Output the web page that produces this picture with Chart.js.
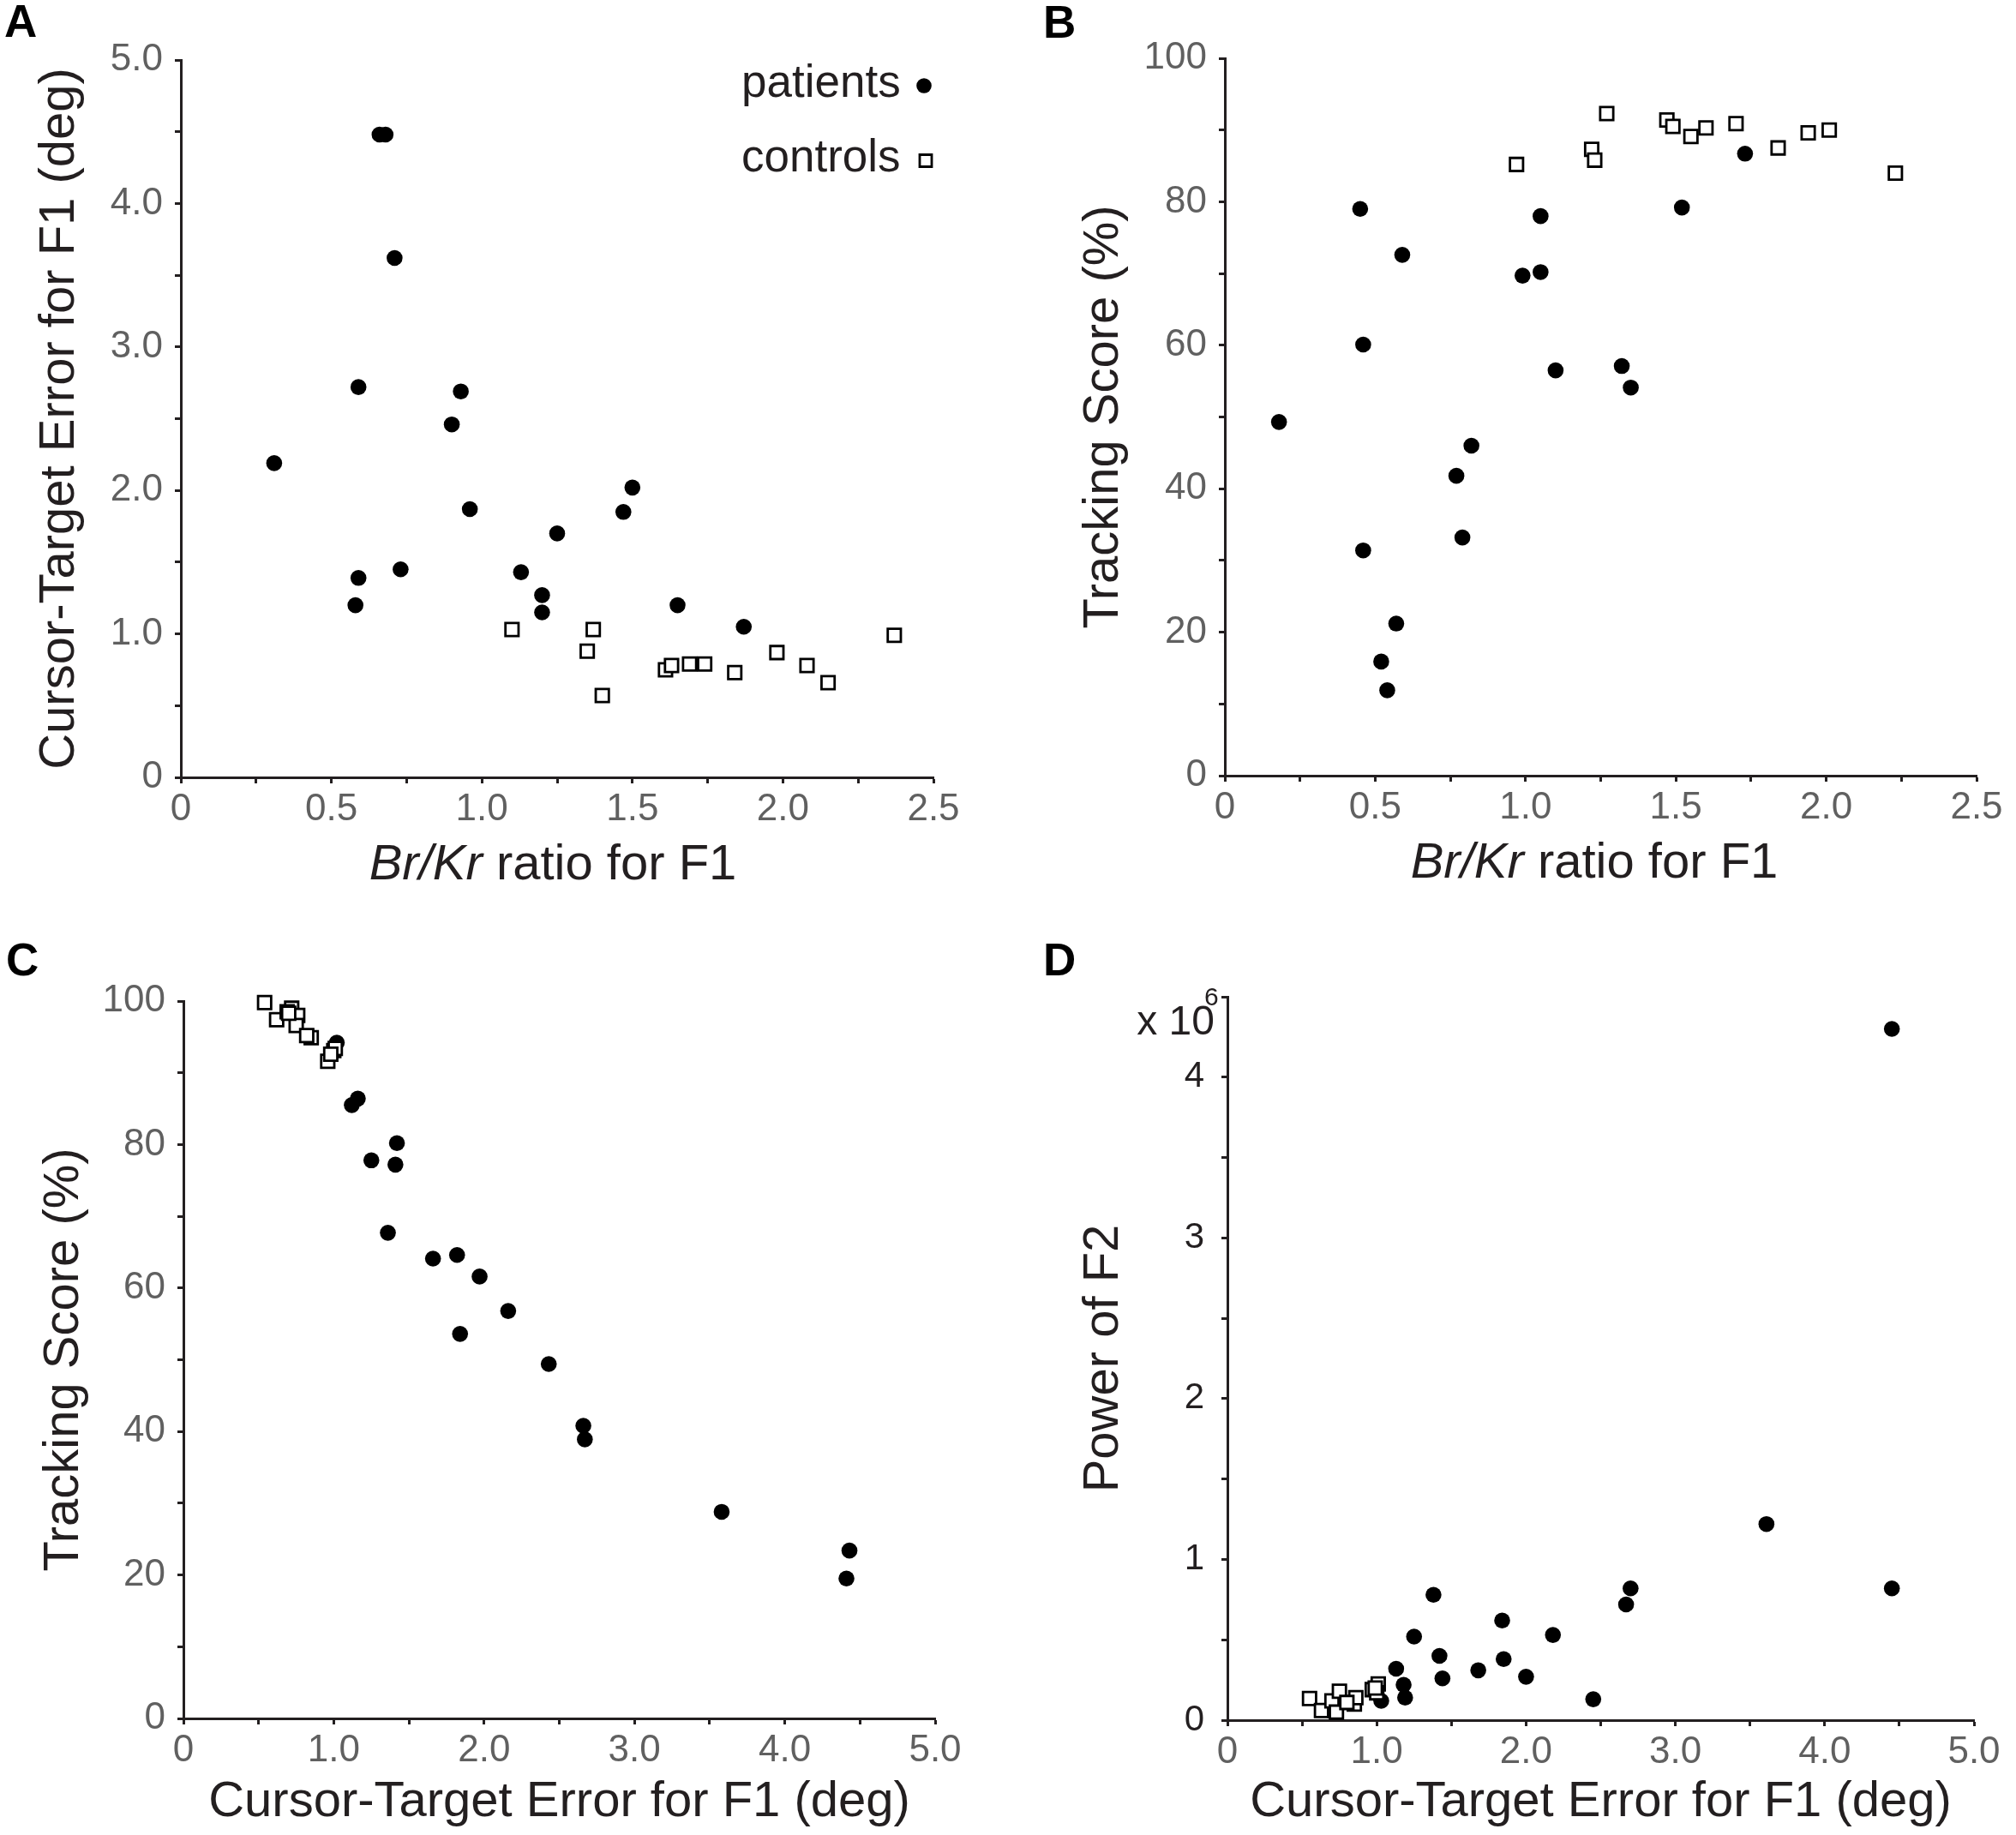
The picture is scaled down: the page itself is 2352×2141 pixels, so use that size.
<!DOCTYPE html>
<html>
<head>
<meta charset="utf-8">
<script src="https://cdn.jsdelivr.net/npm/chart.js@4.4.1/dist/chart.umd.min.js"></script>
<style>
  html, body { margin: 0; padding: 0; background: #ffffff; }
  body { width: 2352px; height: 2141px; position: relative; overflow: hidden; }
  canvas { position: absolute; }
</style>
</head>
<body>
<canvas id="cA" width="1176" height="1070" style="left:0px;top:0px;"></canvas>
<canvas id="cB" width="1176" height="1070" style="left:1176px;top:0px;"></canvas>
<canvas id="cC" width="1176" height="1071" style="left:0px;top:1070px;"></canvas>
<canvas id="cD" width="1176" height="1071" style="left:1176px;top:1070px;"></canvas>
<script>
// ---------------- DATA ----------------
// Panel A: Br/Kr ratio (x) vs cursor-target error (deg, y)
const aPatientsX = [0.31, 0.66, 0.68, 0.71, 0.59, 0.93, 0.90, 0.96, 1.50, 1.47, 1.25, 0.59, 0.73, 1.13, 1.20, 1.20, 0.58, 1.65, 1.87];
const aPatientsY = [2.19, 4.48, 4.48, 3.62, 2.72, 2.69, 2.46, 1.87, 2.02, 1.85, 1.70, 1.39, 1.45, 1.43, 1.27, 1.15, 1.20, 1.20, 1.05];
const aControlsX = [1.10, 1.37, 1.35, 1.40, 1.61, 1.63, 1.69, 1.74, 1.84, 1.98, 2.08, 2.15, 2.37];
const aControlsY = [1.03, 1.03, 0.88, 0.57, 0.75, 0.78, 0.79, 0.79, 0.73, 0.87, 0.78, 0.66, 0.99];

// Panel B: Br/Kr ratio (x) vs tracking score (%, y)
const bPatientsX = [0.18, 0.45, 0.59, 0.46, 0.46, 0.57, 0.52, 0.54, 0.77, 0.82, 0.79, 1.05, 0.99, 1.05, 1.10, 1.32, 1.35, 1.52, 1.73];
const bPatientsY = [49.3, 79.0, 72.6, 60.1, 31.4, 21.2, 15.9, 11.9, 41.8, 46.0, 33.2, 78.0, 69.7, 70.2, 56.5, 57.1, 54.1, 79.2, 86.7];
const bControlsX = [0.97, 1.27, 1.22, 1.23, 1.47, 1.49, 1.55, 1.60, 1.70, 1.84, 1.94, 2.01, 2.23];
const bControlsY = [85.2, 92.3, 87.3, 85.8, 91.4, 90.5, 89.1, 90.3, 90.9, 87.5, 89.6, 90.0, 84.0];

// Panel C: cursor-target error (x) vs tracking score (%, y)
const cPatientsX = [1.02, 1.12, 1.16, 1.25, 1.42, 1.41, 1.36, 1.66, 1.82, 1.97, 2.16, 1.84, 2.43, 2.66, 2.67, 3.58, 4.43, 4.41];
const cPatientsY = [94.2, 85.5, 86.4, 77.8, 80.2, 77.2, 67.7, 64.1, 64.6, 61.6, 56.8, 53.6, 49.4, 40.8, 38.9, 28.8, 23.4, 19.5];
const cControlsX = [0.54, 0.62, 0.72, 0.69, 0.76, 0.75, 0.85, 0.82, 1.00, 0.96, 1.01, 0.70, 0.98];
const cControlsY = [99.8, 97.4, 99.0, 98.5, 98.0, 96.6, 94.9, 95.2, 93.1, 91.6, 93.4, 98.3, 92.6];

// Panel D: cursor-target error (x) vs power of F2 (x10^6, y)
const dPatientsX = [1.03, 1.13, 1.18, 1.19, 1.25, 1.38, 1.42, 1.44, 1.68, 1.84, 1.85, 2.00, 2.18, 2.45, 2.67, 2.70, 3.61, 4.45, 4.45];
const dPatientsY = [0.12, 0.32, 0.22, 0.14, 0.52, 0.78, 0.40, 0.26, 0.31, 0.62, 0.38, 0.27, 0.53, 0.13, 0.72, 0.82, 1.22, 4.30, 0.82];
const dControlsX = [0.55, 0.63, 0.72, 0.70, 0.75, 0.85, 0.86, 0.97, 1.01, 1.00, 0.73, 0.80, 0.99];
const dControlsY = [0.135, 0.06, 0.06, 0.12, 0.18, 0.10, 0.14, 0.19, 0.225, 0.17, 0.05, 0.11, 0.20];

const seriesNames = ['patients', 'controls'];
const panelLetters = ['A', 'B', 'C', 'D'];
const titleBrKrItalic = 'Br/Kr';
const titleBrKrRest = ' ratio for F1';
const titleError = 'Cursor-Target Error for F1 (deg)';
const titleTracking = 'Tracking Score (%)';
const titlePower = 'Power of F2';
const powerMultiplier = ['x 10', '6'];

// ---------------- STYLE ----------------
const FONT = "'Liberation Sans', Arial, Helvetica, sans-serif";
const INK = '#231f20';
const TICKGRAY = '#606060';
Chart.defaults.font.family = FONT;

function pts(xs, ys) { return xs.map((x, i) => ({ x: x, y: ys[i] })); }

function isMult(v, m) { return Math.abs(v / m - Math.round(v / m)) < 1e-6; }

function fmt1(v) { return Math.abs(v) < 1e-9 ? '0' : v.toFixed(1); }
function fmt0(v) { return String(Math.round(v)); }

function scale(o) {
  return {
    type: 'linear',
    min: o.min, max: o.max,
    afterFit: (s) => { if (o.axis === 'x') s.height = o.size; else s.width = o.size; },
    border: { display: true, color: INK, width: 3 },
    grid: { display: true, drawOnChartArea: false, drawTicks: true, tickLength: 7, tickWidth: 3, tickColor: INK },
    ticks: {
      stepSize: o.step, autoSkip: false, maxRotation: 0, minRotation: 0,
      padding: o.tickPad, color: o.tickColor || TICKGRAY,
      font: { size: o.tickSize || 44, family: FONT, lineHeight: 1.2 },
      callback: (v) => isMult(v, o.major) ? o.fmt(v) : ''
    },
    title: {
      display: !!o.title, text: o.title || '', color: INK,
      font: { size: 58, family: FONT, lineHeight: 1.2 },
      padding: o.titlePad || 0
    }
  };
}

const decorPlugin = {
  id: 'decor',
  afterDraw(chart, args, opts) {
    const ctx = chart.ctx;
    ctx.save();
    // panel letter
    ctx.fillStyle = '#000';
    ctx.font = 'bold 53px ' + FONT;
    ctx.textAlign = 'left';
    ctx.textBaseline = 'alphabetic';
    ctx.fillText(opts.letter, opts.letterX, opts.letterY);
    // mixed-style x title
    if (opts.mixedTitle) {
      const it = 'italic 58px ' + FONT, rg = '58px ' + FONT;
      ctx.font = it; const w1 = ctx.measureText(titleBrKrItalic).width;
      ctx.font = rg; const w2 = ctx.measureText(titleBrKrRest).width;
      const x0 = opts.mixedTitle.cx - (w1 + w2) / 2;
      ctx.fillStyle = INK;
      ctx.font = it; ctx.fillText(titleBrKrItalic, x0, opts.mixedTitle.y);
      ctx.font = rg; ctx.fillText(titleBrKrRest, x0 + w1, opts.mixedTitle.y);
    }
    // legend (panel A)
    if (opts.legend) {
      const L = opts.legend;
      ctx.fillStyle = INK;
      ctx.font = '53px ' + FONT;
      ctx.fillText(seriesNames[0], L.x, L.y1);
      ctx.fillText(seriesNames[1], L.x, L.y2);
      ctx.fillStyle = '#000';
      ctx.beginPath(); ctx.arc(L.mx, L.y1 - 13, 8.8, 0, Math.PI * 2); ctx.fill();
      ctx.strokeStyle = '#000'; ctx.lineWidth = 2.8; ctx.fillStyle = '#fff';
      ctx.beginPath(); ctx.rect(L.mx + 2 - 7, L.y2 - 12.5 - 7, 14, 14); ctx.fill(); ctx.stroke();
    }
    // multiplier (panel D)
    if (opts.mult) {
      ctx.fillStyle = INK;
      ctx.textAlign = 'right';
      ctx.font = '48px ' + FONT;
      ctx.fillText(powerMultiplier[0], opts.mult.x, opts.mult.y);
      ctx.textAlign = 'left';
      ctx.font = '30px ' + FONT;
      ctx.fillText(powerMultiplier[1], opts.mult.x - 12, opts.mult.y - 34);
    }
    ctx.restore();
  }
};

function datasets(px, py, cx, cy) {
  return [
    { label: seriesNames[1], data: pts(cx, cy), order: 0, pointStyle: 'rect', pointRadius: 10.8,
      backgroundColor: '#ffffff', borderColor: '#000000', borderWidth: 2.8, showLine: false },
    { label: seriesNames[0], data: pts(px, py), order: 1, pointStyle: 'circle', pointRadius: 9.3,
      backgroundColor: '#000000', borderColor: '#000000', borderWidth: 0, showLine: false }
  ];
}

function makeChart(id, cfg) {
  return new Chart(document.getElementById(id), {
    type: 'scatter',
    data: { datasets: cfg.datasets },
    options: {
      responsive: false, animation: false, devicePixelRatio: 1, events: [],
      clip: false,
      layout: { padding: cfg.padding },
      plugins: { legend: { display: false }, tooltip: { enabled: false }, decor: cfg.decor },
      scales: { x: cfg.x, y: cfg.y }
    },
    plugins: [decorPlugin]
  });
}

// Panel A
makeChart('cA', {
  datasets: datasets(aPatientsX, aPatientsY, aControlsX, aControlsY),
  padding: { left: 0, top: 70, right: 87, bottom: 0 },
  x: scale({ axis: 'x', min: 0, max: 2.5, step: 0.25, major: 0.5, fmt: fmt1, size: 163, tickPad: 4 }),
  y: scale({ axis: 'y', min: 0, max: 5, step: 0.5, major: 1, fmt: fmt1, size: 211, tickPad: 14,
             title: titleError, titlePad: { top: 35 } }),
  decor: { letter: panelLetters[0], letterX: 5, letterY: 43,
           mixedTitle: { cx: 645, y: 1026 },
           legend: { x: 865, y1: 113, y2: 200, mx: 1078 } }
});

// Panel B
makeChart('cB', {
  datasets: datasets(bPatientsX, bPatientsY, bControlsX, bControlsY),
  padding: { left: 0, top: 68, right: 46, bottom: 0 },
  x: scale({ axis: 'x', min: 0, max: 2.5, step: 0.25, major: 0.5, fmt: fmt1, size: 165, tickPad: 4 }),
  y: scale({ axis: 'y', min: 0, max: 100, step: 10, major: 20, fmt: fmt0, size: 253, tickPad: 14,
             title: titleTracking, titlePad: { top: 77 } }),
  decor: { letter: panelLetters[1], letterX: 41, letterY: 44,
           mixedTitle: { cx: 684, y: 1024 } }
});

// Panel C
makeChart('cC', {
  datasets: datasets(cPatientsX, cPatientsY, cControlsX, cControlsY),
  padding: { left: 0, top: 98, right: 85, bottom: 0 },
  x: scale({ axis: 'x', min: 0, max: 5, step: 0.5, major: 1, fmt: fmt1, size: 136, tickPad: 4,
             title: titleError, titlePad: { bottom: 3 } }),
  y: scale({ axis: 'y', min: 0, max: 100, step: 10, major: 20, fmt: fmt0, size: 214, tickPad: 14,
             title: titleTracking, titlePad: { top: 40 } }),
  decor: { letter: panelLetters[2], letterX: 7, letterY: 68 }
});

// Panel D
makeChart('cD', {
  datasets: datasets(dPatientsX, dPatientsY, dControlsX, dControlsY),
  padding: { left: 0, top: 93, right: 49, bottom: 0 },
  x: scale({ axis: 'x', min: 0, max: 5, step: 0.5, major: 1, fmt: fmt1, size: 134, tickPad: 4,
             title: titleError, titlePad: { bottom: 3 } }),
  y: scale({ axis: 'y', min: 0, max: 4.5, step: 0.5, major: 1, fmt: fmt0, size: 256, tickPad: 20,
             tickColor: INK, tickSize: 42,
             title: titlePower, titlePad: { top: 77 } }),
  decor: { letter: panelLetters[3], letterX: 41, letterY: 68,
           mult: { x: 241, y: 137 } }
});
</script>
</body>
</html>
